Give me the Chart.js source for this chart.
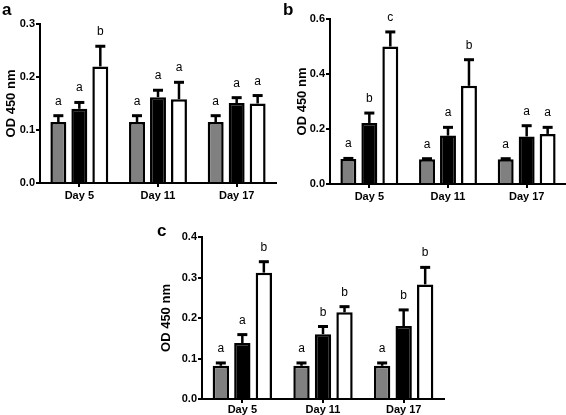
<!DOCTYPE html>
<html>
<head>
<meta charset="utf-8">
<script src="https://cdn.jsdelivr.net/npm/chart.js@4/dist/chart.umd.min.js"></script>
<style>
body { margin: 0; background: #fff; }
#wrap { position: relative; width: 566px; height: 415px; overflow: hidden; background: #fff; }
#wrap canvas { position: absolute; }
.panel-label { position: absolute; font: bold 17px "Liberation Sans", Arial, sans-serif; color: #000; line-height: 1; }
</style>
</head>
<body>
<div id="wrap">
  <canvas id="chartA" width="282" height="205" style="left:0;top:0"></canvas>
  <canvas id="chartB" width="284" height="210" style="left:282px;top:0"></canvas>
  <canvas id="chartC" width="300" height="205" style="left:150px;top:220px"></canvas>
  <div class="panel-label" style="left:2px;top:1px">a</div>
  <div class="panel-label" style="left:283px;top:1px">b</div>
  <div class="panel-label" style="left:157px;top:222px">c</div>
</div>
<script>
const days = ['Day 5', 'Day 11', 'Day 17'];

// panel a
const aGray = [0.115, 0.115, 0.115];
const aGraySem = [0.012, 0.012, 0.012];
const aBlack = [0.140, 0.162, 0.151];
const aBlackSem = [0.012, 0.013, 0.010];
const aWhite = [0.220, 0.158, 0.150];
const aWhiteSem = [0.038, 0.032, 0.015];
const aLetters = [['a', 'a', 'a'], ['a', 'a', 'a'], ['b', 'a', 'a']];
const aTicks = [0, 0.1, 0.2, 0.3];

// panel b
const bGray = [0.091, 0.090, 0.090];
const bGraySem = [0.002, 0.002, 0.002];
const bBlack = [0.222, 0.176, 0.173];
const bBlackSem = [0.036, 0.030, 0.039];
const bWhite = [0.500, 0.357, 0.182];
const bWhiteSem = [0.053, 0.095, 0.024];
const bLetters = [['a', 'a', 'a'], ['b', 'a', 'a'], ['c', 'b', 'a']];
const bTicks = [0, 0.2, 0.4, 0.6];

// panel c
const cGray = [0.082, 0.082, 0.082];
const cGraySem = [0.007, 0.007, 0.007];
const cBlack = [0.138, 0.160, 0.180];
const cBlackSem = [0.021, 0.019, 0.040];
const cWhite = [0.312, 0.214, 0.283];
const cWhiteSem = [0.027, 0.014, 0.042];
const cLetters = [['a', 'a', 'a'], ['a', 'b', 'b'], ['b', 'b', 'b']];
const cTicks = [0, 0.1, 0.2, 0.3, 0.4];

Chart.defaults.font.family = '"Liberation Sans", Arial, Helvetica, sans-serif';
Chart.defaults.color = '#000';

const errorBars = {
    id: 'errorBars',
    afterDatasetsDraw(chart) {
        const ctx = chart.ctx;
        const yScale = chart.scales.y;
        ctx.save();
        ctx.strokeStyle = '#000';
        ctx.fillStyle = '#000';
        ctx.font = '12px "Liberation Sans", Arial, sans-serif';
        ctx.textAlign = 'center';
        ctx.textBaseline = 'alphabetic';
        chart.data.datasets.forEach((ds, i) => {
            const meta = chart.getDatasetMeta(i);
            meta.data.forEach((bar, j) => {
                const top = yScale.getPixelForValue(ds.data[j] + ds.sem[j]);
                ctx.lineWidth = 2.5;
                ctx.beginPath();
                ctx.moveTo(bar.x, bar.y);
                ctx.lineTo(bar.x, top);
                ctx.stroke();
                ctx.lineWidth = 3;
                ctx.beginPath();
                ctx.moveTo(bar.x - 5, top);
                ctx.lineTo(bar.x + 5, top);
                ctx.stroke();
                ctx.fillText(ds.letters[j], bar.x, top - 11);
            });
        });
        ctx.restore();
    }
};

function makeChart(id, p) {
    const ctx = document.getElementById(id).getContext('2d');
    const ticks = p.ticks;
    return new Chart(ctx, {
        type: 'bar',
        data: {
            labels: days,
            datasets: [
                { data: p.gray, sem: p.graySem, letters: p.letters[0], backgroundColor: '#808080' },
                { data: p.black, sem: p.blackSem, letters: p.letters[1], backgroundColor: '#000' },
                { data: p.white, sem: p.whiteSem, letters: p.letters[2], backgroundColor: '#fff' }
            ].map(d => Object.assign(d, {
                borderColor: '#000',
                borderWidth: 2.5,
                categoryPercentage: 0.8,
                barPercentage: 0.76
            }))
        },
        options: {
            responsive: false,
            animation: false,
            devicePixelRatio: 1,
            layout: { padding: p.pad },
            plugins: {
                legend: { display: false },
                tooltip: { enabled: false }
            },
            scales: {
                x: {
                    grid: { drawOnChartArea: false, offset: false, tickLength: 4, color: '#000', lineWidth: 2 },
                    border: { color: '#000', width: 2 },
                    ticks: { color: '#000', font: { size: 11, weight: 'bold' }, padding: p.xPad, maxRotation: 0 },
                    afterFit: s => { s.height = p.xHeight; }
                },
                y: {
                    min: ticks[0],
                    max: ticks[ticks.length - 1],
                    afterBuildTicks: s => { s.ticks = ticks.map(v => ({ value: v })); },
                    ticks: { color: '#000', font: { size: 11, weight: 'bold' }, padding: 1, callback: v => v.toFixed(1) },
                    grid: { drawOnChartArea: false, tickLength: 4, color: '#000', lineWidth: 2 },
                    border: { color: '#000', width: 2 },
                    title: {
                        display: true,
                        text: 'OD 450 nm',
                        color: '#000',
                        font: { size: 13, weight: 'bold' },
                        padding: { top: p.titlePad, bottom: 0 }
                    },
                    afterFit: s => { s.width = p.yWidth; }
                }
            }
        },
        plugins: [errorBars]
    });
}

makeChart('chartA', {
    gray: aGray, graySem: aGraySem, black: aBlack, blackSem: aBlackSem,
    white: aWhite, whiteSem: aWhiteSem, letters: aLetters, ticks: aTicks,
    pad: { top: 24, right: 6, left: 0, bottom: 0 }, xHeight: 22, xPad: 2, yWidth: 40, titlePad: 4
});

makeChart('chartB', {
    gray: bGray, graySem: bGraySem, black: bBlack, blackSem: bBlackSem,
    white: bWhite, whiteSem: bWhiteSem, letters: bLetters, ticks: bTicks,
    pad: { top: 19, right: 0, left: 0, bottom: 0 }, xHeight: 26, xPad: 2, yWidth: 48, titlePad: 13
});

makeChart('chartC', {
    gray: cGray, graySem: cGraySem, black: cBlack, blackSem: cBlackSem,
    white: cWhite, whiteSem: cWhiteSem, letters: cLetters, ticks: cTicks,
    pad: { top: 17, right: 6, left: 0, bottom: 0 }, xHeight: 26, xPad: 0, yWidth: 52, titlePad: 9
});
</script>
</body>
</html>
